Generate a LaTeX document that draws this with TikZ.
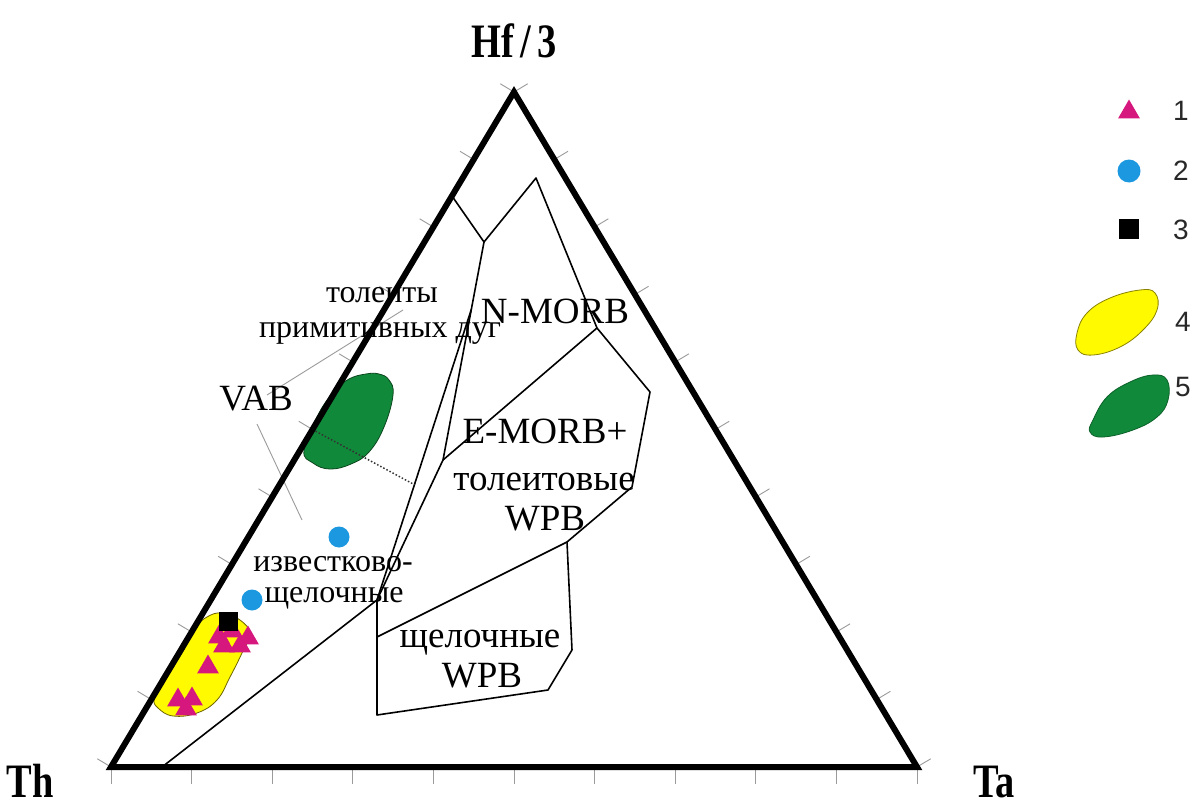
\documentclass[tikz,border=0pt]{standalone}
\usepackage{graphicx}
\usepackage{fontspec}
\setmainfont{Liberation Serif}
\newfontfamily\legendfont{Liberation Sans}
\usetikzlibrary{calc,shapes.geometric}
\definecolor{magentaA}{RGB}{214,23,125}
\definecolor{blueA}{RGB}{27,152,224}
\definecolor{greenA}{RGB}{16,138,58}
\definecolor{greenB}{RGB}{12,70,30}
\definecolor{yellowA}{RGB}{255,250,0}
\definecolor{yellowB}{RGB}{110,100,0}
\definecolor{tickgray}{RGB}{155,155,155}
\definecolor{numgray}{RGB}{40,40,40}
\newcommand\axislab[1]{\scalebox{0.8}[1]{\fontsize{48}{48}\selectfont\bfseries #1}}
\tikzset{
  frame/.style={line width=6pt, line join=miter},
  field/.style={line width=1.6pt, line join=round},
  tickline/.style={tickgray, line width=0.9pt},
  leader/.style={tickgray, line width=0.9pt},
  fieldlabel/.style={font=\fontsize{37}{40}\selectfont, inner sep=0pt, anchor=base},
  smalllabel/.style={font=\fontsize{32}{34}\selectfont, inner sep=0pt, anchor=base},
  axislabel/.style={inner sep=0pt, anchor=base},
  tri/.style={regular polygon, regular polygon sides=3, fill=magentaA, minimum size=25pt, inner sep=0pt},
  dot/.style={circle, fill=blueA, minimum size=21pt, inner sep=0pt},
  sq/.style={rectangle, fill=black, minimum size=19pt, inner sep=0pt},
  legnum/.style={font=\legendfont\fontsize{28}{30}\selectfont, text=numgray, inner sep=0pt},
}
\begin{document}
\begin{tikzpicture}[x=1pt,y=-1pt]
\useasboundingbox (0,0) rectangle (1195,808);
\fill[white] (0,0) rectangle (1195,808);

% corners
\coordinate (Th) at (111,767);
\coordinate (Ta) at (917,767);
\coordinate (Hf) at (514,92);

% blobs
\filldraw[fill=yellowA, draw=yellowB, line width=0.8pt]
  plot[smooth cycle, tension=0.7] coordinates {(207,617) (222,613) (240,620) (250,634) (242,653) (230,677) (217,700) (197,713) (173,716) (158,708) (154,699) (160,686) (180,656) (196,628)};
\filldraw[fill=greenA, draw=greenB, line width=0.8pt]
  plot[smooth cycle, tension=0.7] coordinates {(304,450) (313,463) (330,469) (351,464) (369,452) (384,427) (393,395) (389,380) (379,374) (366,374) (349,379) (335,391) (319,413)};

% ticks
\foreach \k in {0,...,10}{
  \draw[tickline] ($(Th)!\k/10!(Ta)$) -- ++(0,17);
  \draw[tickline] ($(Th)!\k/10!(Hf)$) -- ++(-13.7,-8.2);
  \draw[tickline] ($(Ta)!\k/10!(Hf)$) -- ++(13.7,-8.2);
}

% leader lines
\coordinate (g1a) at (403,310);
\coordinate (g1b) at (267,395);
\coordinate (g2a) at (257,424);
\coordinate (g2b) at (302,520);
\draw[leader] (g1a) -- (g1b);
\draw[leader] (g2a) -- (g2b);

% field boundaries
\coordinate (P1) at ($(Th)!0.846!(Hf)$);
\coordinate (J1) at (484,242);
\coordinate (P2) at (536,178);
\coordinate (P3) at (597,328);
\coordinate (P4) at (650,392);
\coordinate (P5) at (632,487);
\coordinate (P6) at (567,542);
\coordinate (J2) at (443,460);
\coordinate (K) at (377,600);
\coordinate (Q) at (377,637);
\coordinate (R1) at (377,715);
\coordinate (R2) at (548,690);
\coordinate (R3) at (572,650);
\coordinate (B0) at (162,767);
\coordinate (L1) at ($(J1)!0.31!(J2)$);
\draw[field] (P1) -- (J1) -- (P2) -- (P3) -- (P4) -- (P5) -- (P6) -- (Q);
\draw[field] (P3) -- (J2);
\draw[field] (J1) -- (J2) -- (K);
\draw[field] (L1) -- (K) -- (B0);
\draw[field] (K) -- (R1) -- (R2) -- (R3) -- (P6);

% Hf/Th = 3 dotted line
\coordinate (M) at ($(Th)!0.5!(Hf)$);
\coordinate (D) at ($(L1)!0.603!(K)$);
\draw[line width=1.5pt, dotted, black!80] (M) -- (D);

% frame
\draw[frame] (Th) -- (Ta) -- (Hf) -- cycle;

% data markers
\node[tri] (t1) at (219,637) {};
\node[tri] (t2) at (232,631) {};
\node[tri] (t3) at (248,638) {};
\node[tri] (t4) at (224,646) {};
\node[tri] (t5) at (240,646) {};
\node[tri] (t6) at (208,667) {};
\node[tri] (t7) at (178,700) {};
\node[tri] (t8) at (192,699) {};
\node[tri] (t9) at (186,709) {};
\node[sq] (s1) at (228,621) {};
\node[dot] (c1) at (252,600) {};
\node[dot] (c2) at (339,537) {};

% axis labels
\node[axislabel] (lhf) at (514,58) {\axislab{Hf\,/\,3}};
\node[axislabel] (lth) at (30,797) {\axislab{Th}};
\node[axislabel] (lta) at (994,797) {\axislab{Ta}};

% field labels
\node[smalllabel] (f1) at (382,302) {толеиты};
\node[smalllabel] (f2) at (380,337) {примитивных дуг};
\node[fieldlabel] (f3) at (256,410) {VAB};
\node[fieldlabel] (f4) at (555,323) {N-MORB};
\node[fieldlabel] (f5) at (545,443) {E-MORB+};
\node[fieldlabel] (f6) at (544,490) {толеитовые};
\node[fieldlabel] (f7) at (545,530) {WPB};
\node[smalllabel] (f8) at (333,571) {известково-};
\node[smalllabel] (f9) at (334,602) {щелочные};
\node[fieldlabel] (f10) at (480,647) {щелочные};
\node[fieldlabel] (f11) at (482,687) {WPB};

% legend
\node[tri, minimum size=25pt] (lg1) at (1129,112) {};
\node[dot, minimum size=23pt] (lg2) at (1129,171) {};
\node[sq, minimum size=20pt] (lg3) at (1129,229) {};
\filldraw[fill=yellowA, draw=yellowB!80!yellow, line width=0.8pt]
  plot[smooth cycle, tension=0.7] coordinates {(1077,333) (1087,313) (1110,298) (1140,290) (1155,293) (1157,310) (1143,330) (1120,347) (1093,355) (1078,350)};
\filldraw[fill=greenA, draw=greenA!70!black, line width=0.8pt]
  plot[smooth cycle, tension=0.7] coordinates {(1093,420) (1107,397) (1130,382) (1153,375) (1167,380) (1168,400) (1157,417) (1133,430) (1103,437) (1090,432)};
\node[legnum] (n1) at (1181,111) {1};
\node[legnum] (n2) at (1181,171) {2};
\node[legnum] (n3) at (1181,230) {3};
\node[legnum] (n4) at (1183,322) {4};
\node[legnum] (n5) at (1183,387) {5};
\end{tikzpicture}
\end{document}
